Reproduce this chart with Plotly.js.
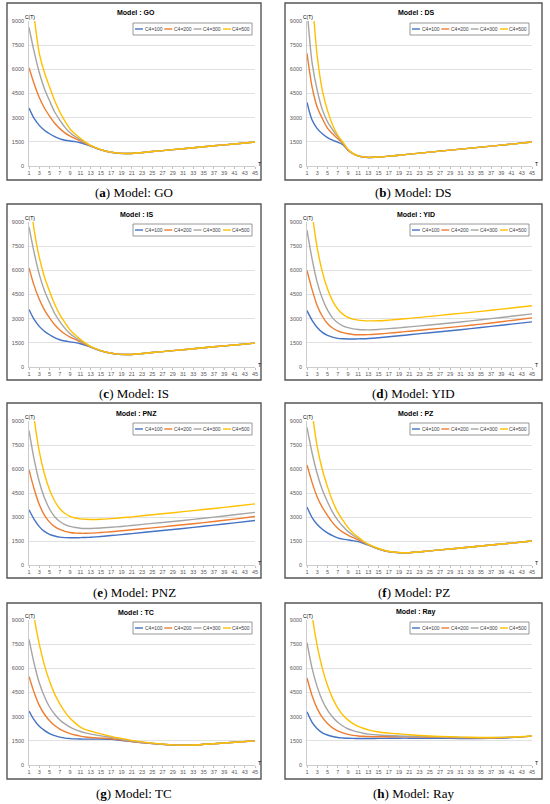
<!DOCTYPE html>
<html><head><meta charset="utf-8">
<script src="https://cdn.plot.ly/plotly-3.0.1.min.js"></script>
<style>html,body{margin:0;padding:0;background:#fff}#chart{width:550px;height:804px}</style>
</head><body><div id="chart"></div>
<script>
// ---------- DATA ----------
const T = [1,2,3,4,5,6,7,8,9,10,11,12,13,15,17,19,21,25,29,33,37,41,45];
const seriesNames = ['C4=100','C4=200','C4=300','C4=500'];
const panelModels = ['GO','DS','IS','YID','PNZ','PZ','TC','Ray'];
const panelLetters = ['a','b','c','d','e','f','g','h'];
const yTicks = [0,1500,3000,4500,6000,7500,9000];
const xTicks = [1,3,5,7,9,11,13,15,17,19,21,23,25,27,29,31,33,35,37,39,41,43,45];

// Model GO
const goC100 = [3600,2950,2520,2220,2000,1820,1680,1600,1550,1510,1440,1340,1230,1000,850,780,780,900,1015,1135,1255,1370,1490];
const goC200 = [6100,5100,4250,3600,3100,2650,2320,2060,1850,1700,1560,1400,1250,1010,855,782,780,900,1015,1135,1255,1370,1490];
const goC300 = [8600,7100,5800,4800,4050,3350,2850,2400,2060,1820,1640,1440,1260,1015,858,783,780,900,1015,1135,1255,1370,1490];
const goC500 = [12500,9300,7000,5800,4900,4050,3350,2780,2300,1980,1720,1480,1280,1020,860,785,780,900,1015,1135,1255,1370,1490];
// Model DS
const dsC100 = [3950,2850,2320,2000,1760,1600,1480,1330,980,760,620,560,530,555,610,670,735,860,985,1110,1235,1360,1490];
const dsC200 = [7000,4900,3650,2950,2350,2000,1700,1390,1000,770,625,562,532,555,610,670,735,860,985,1110,1235,1360,1490];
const dsC300 = [9800,6400,4700,3500,2750,2250,1820,1430,1020,775,628,564,533,555,610,670,735,860,985,1110,1235,1360,1490];
const dsC500 = [14000,10500,6800,4700,3450,2550,1920,1490,1040,780,630,565,535,555,610,670,735,860,985,1110,1235,1360,1490];
// Model IS
const isC100 = [3570,2950,2520,2220,2000,1820,1690,1610,1560,1510,1440,1340,1230,1000,850,780,780,900,1015,1135,1255,1370,1480];
const isC200 = [6150,5050,4200,3550,3050,2620,2300,2050,1860,1710,1560,1400,1250,1010,855,782,780,900,1015,1135,1255,1370,1480];
const isC300 = [8700,7100,5750,4750,4000,3320,2820,2400,2060,1830,1640,1440,1260,1015,858,783,780,900,1015,1135,1255,1370,1480];
const isC500 = [11000,8500,6800,5600,4700,3900,3250,2750,2300,1980,1720,1480,1280,1020,860,785,780,900,1015,1135,1255,1370,1480];
// Model YID
const yidC100 = [3500,2900,2450,2150,1960,1850,1780,1750,1740,1740,1745,1755,1770,1820,1880,1940,2000,2130,2250,2380,2520,2660,2800];
const yidC200 = [6000,4800,3800,3150,2700,2420,2240,2130,2060,2020,2005,2005,2010,2050,2100,2160,2220,2340,2460,2590,2730,2890,3050];
const yidC300 = [8500,6700,5250,4250,3550,3050,2750,2560,2440,2370,2330,2310,2305,2330,2380,2430,2490,2610,2730,2860,3000,3150,3300];
const yidC500 = [13000,9600,7400,5900,4850,4100,3600,3280,3080,2970,2910,2880,2865,2870,2910,2960,3020,3140,3270,3390,3520,3660,3800];
// Model PNZ
const pnzC100 = [3450,2850,2400,2100,1920,1810,1740,1710,1700,1700,1710,1720,1735,1780,1840,1900,1960,2090,2220,2350,2490,2630,2780];
const pnzC200 = [5950,4750,3780,3120,2680,2400,2220,2100,2030,1990,1980,1980,1990,2030,2080,2140,2200,2320,2450,2580,2720,2870,3030];
const pnzC300 = [8400,6600,5200,4200,3500,3020,2720,2530,2410,2340,2300,2285,2285,2310,2360,2410,2470,2600,2720,2850,2990,3140,3290];
const pnzC500 = [12500,9200,7100,5700,4700,4000,3520,3220,3040,2940,2880,2855,2845,2860,2900,2950,3010,3140,3270,3400,3530,3670,3820];
// Model PZ
const pzC100 = [3620,2960,2530,2230,2010,1830,1700,1620,1570,1520,1460,1360,1250,1000,830,770,770,885,1000,1125,1250,1370,1500];
const pzC200 = [6250,5150,4250,3600,3100,2650,2300,2050,1870,1720,1570,1410,1260,1010,835,772,770,885,1000,1125,1250,1370,1500];
const pzC300 = [8600,7000,5700,4700,3950,3300,2800,2420,2100,1860,1660,1450,1280,1020,840,775,770,885,1000,1125,1250,1370,1500];
const pzC500 = [12500,9600,7400,5950,4900,4000,3300,2800,2350,2000,1740,1500,1300,1030,845,778,770,885,1000,1125,1250,1370,1500];
// Model TC
const tcC100 = [3350,2800,2400,2150,1950,1820,1730,1670,1640,1620,1610,1605,1605,1615,1600,1520,1450,1330,1245,1245,1320,1410,1500];
const tcC200 = [5500,4500,3700,3150,2750,2450,2230,2070,1950,1860,1790,1740,1710,1670,1630,1550,1460,1335,1245,1245,1320,1410,1500];
const tcC300 = [7800,6300,5100,4250,3600,3150,2800,2550,2350,2200,2080,1990,1920,1810,1720,1600,1490,1340,1248,1245,1320,1410,1500];
const tcC500 = [12000,9200,7500,6200,5200,4400,3800,3300,2900,2600,2350,2200,2100,1930,1780,1650,1530,1355,1250,1245,1320,1410,1500];
// Model Ray
const rayC100 = [3300,2650,2250,2000,1860,1770,1710,1680,1660,1650,1645,1645,1645,1650,1660,1665,1665,1660,1650,1640,1650,1700,1790];
const rayC200 = [5400,4300,3500,2950,2570,2300,2120,1990,1900,1840,1800,1780,1765,1750,1750,1750,1745,1725,1705,1690,1680,1720,1790];
const rayC300 = [7600,6000,4850,4000,3400,2980,2650,2420,2250,2130,2040,1970,1920,1860,1830,1800,1780,1750,1720,1700,1695,1725,1790];
const rayC500 = [12000,9300,7400,6000,4950,4150,3550,3100,2800,2570,2400,2280,2180,2050,1980,1930,1880,1800,1750,1720,1710,1735,1800];

const panelData = [
  [goC100,goC200,goC300,goC500],
  [dsC100,dsC200,dsC300,dsC500],
  [isC100,isC200,isC300,isC500],
  [yidC100,yidC200,yidC300,yidC500],
  [pnzC100,pnzC200,pnzC300,pnzC500],
  [pzC100,pzC200,pzC300,pzC500],
  [tcC100,tcC200,tcC300,tcC500],
  [rayC100,rayC200,rayC300,rayC500]
];

// ---------- LAYOUT ----------
const W = 550, H = 804;
const px = x => x / W, py = y => 1 - y / H;
const colors = ['#4472C4','#ED7D31','#A5A5A5','#FFC000'];
const cols = [{fl:7,fr:261,pl:29,pr:255},{fl:285,fr:542,pl:307,pr:532}];
const rows = [
  {ft:3,fb:180,pt:21,pb:166,cap:192},
  {ft:204,fb:380,pt:222,pb:367,cap:393},
  {ft:403,fb:578,pt:421,pb:565,cap:592},
  {ft:603,fb:779,pt:620,pb:765,cap:793}
];
const tickFont = {family:'Liberation Sans, Arial, sans-serif', size:5.5, color:'#595959'};

const traces = [];
const shapes = [];
const annotations = [];
const layout = {
  width: W, height: H,
  margin: {l:0,r:0,t:0,b:0},
  paper_bgcolor: '#ffffff', plot_bgcolor: '#ffffff',
  showlegend: false
};

panelModels.forEach((model, i) => {
  const c = cols[i % 2], r = rows[Math.floor(i / 2)];
  const s = i === 0 ? '' : String(i + 1);
  layout['xaxis' + s] = {
    domain: [px(c.pl), px(c.pr)], range: [1, 45], anchor: 'y' + s,
    tickmode: 'array', tickvals: xTicks, ticks: 'outside', ticklen: 2, tickcolor: '#bfbfbf',
    showline: true, linecolor: '#bfbfbf', linewidth: 0.8, showgrid: false, zeroline: false,
    tickfont: tickFont, fixedrange: true
  };
  layout['yaxis' + s] = {
    domain: [py(r.pb), py(r.pt)], range: [0, 9000], anchor: 'x' + s,
    tickmode: 'array', tickvals: yTicks, showline: true, linecolor: '#bfbfbf', linewidth: 0.8,
    gridcolor: '#d9d9d9', gridwidth: 0.8, zeroline: false, tickfont: tickFont,
    ticklabelstandoff: 3, fixedrange: true
  };
  panelData[i].forEach((vals, k) => {
    traces.push({
      type: 'scatter', mode: 'lines', x: T, y: vals, name: seriesNames[k],
      xaxis: 'x' + s, yaxis: 'y' + s,
      line: {color: colors[k], width: 1.4, shape: 'spline', smoothing: 0.8},
      hoverinfo: 'skip'
    });
  });
  // frame
  shapes.push({type:'rect', xref:'paper', yref:'paper', x0:px(c.fl), x1:px(c.fr), y0:py(r.fb), y1:py(r.ft),
    line:{color:'#555555', width:1.4}, fillcolor:'rgba(0,0,0,0)'});
  // title
  annotations.push({xref:'paper', yref:'paper', x:px((c.fl + c.fr) / 2 + 2), y:py(r.pt - 8),
    text:'<b>Model : ' + model + '</b>', showarrow:false, xanchor:'center', yanchor:'middle',
    font:{family:'Liberation Sans, Arial, sans-serif', size:7, color:'#000'}});
  // C(T) and T labels
  annotations.push({xref:'paper', yref:'paper', x:px(c.pl + 1), y:py(r.pt - 4), text:'C(T)',
    showarrow:false, xanchor:'center', yanchor:'middle', font:{family:'Liberation Sans, Arial, sans-serif', size:5, color:'#000'}});
  annotations.push({xref:'paper', yref:'paper', x:px(c.pr + 1), y:py(r.pb - 2), text:'T',
    showarrow:false, xanchor:'left', yanchor:'middle', font:{family:'Liberation Sans, Arial, sans-serif', size:5, color:'#000'}});
  // caption
  annotations.push({xref:'paper', yref:'paper', x:px((c.fl + c.fr) / 2), y:py(r.cap),
    text:'(<b>' + panelLetters[i] + '</b>) Model: ' + model, showarrow:false, xanchor:'center', yanchor:'middle',
    font:{family:'Liberation Serif, DejaVu Serif, serif', size:13, color:'#000'}});
  // legend (manual, compact like the reference)
  const L = c.pr - 122, R = c.pr - 3, Tp = r.pt + 2, B = r.pt + 14, mid = (Tp + B) / 2;
  shapes.push({type:'rect', xref:'paper', yref:'paper', x0:px(L), x1:px(R), y0:py(B), y1:py(Tp),
    line:{color:'#7f7f7f', width:0.8}, fillcolor:'#ffffff'});
  seriesNames.forEach((nm, k) => {
    const x0 = L + 2 + 29.3 * k;
    shapes.push({type:'line', xref:'paper', yref:'paper', x0:px(x0), x1:px(x0 + 8), y0:py(mid), y1:py(mid),
      line:{color:colors[k], width:1.4}});
    annotations.push({xref:'paper', yref:'paper', x:px(x0 + 8.5), y:py(mid), text:nm, showarrow:false,
      xanchor:'left', yanchor:'middle', borderpad:0,
      font:{family:'Liberation Sans, Arial, sans-serif', size:5, color:'#404040'}});
  });
});

layout.shapes = shapes;
layout.annotations = annotations;
Plotly.newPlot('chart', traces, layout, {staticPlot:true, displayModeBar:false});
</script>
</body></html>
